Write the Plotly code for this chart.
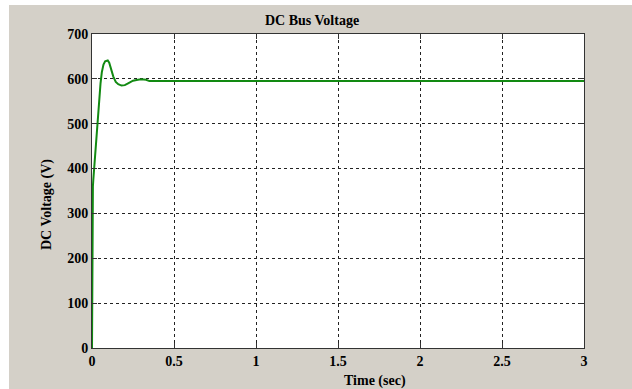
import plotly.graph_objects as go

# Data
time_s = [0, 0.0008, 0.002, 0.004, 0.0055, 0.008, 0.012, 0.018, 0.025, 0.034, 0.043,
          0.052, 0.06, 0.07, 0.08, 0.09, 0.096, 0.105, 0.115, 0.13, 0.145, 0.16,
          0.18, 0.2, 0.22, 0.25, 0.28, 0.30, 0.33, 0.35, 0.4, 1.0, 2.0, 3.0]
voltage = [0, 100, 105, 110, 360, 375, 395, 430, 465, 500, 548,
           590, 615, 632, 639, 641, 641, 636, 624, 605, 593, 588,
           585, 586, 590, 596, 598, 599, 598, 595, 595, 595, 595, 595]

title_text = "DC Bus Voltage"
xlabel_text = "Time (sec)"
ylabel_text = "DC Voltage (V)"
x_ticks = [0, 0.5, 1, 1.5, 2, 2.5, 3]
x_tick_labels = ["0", "0.5", "1", "1.5", "2", "2.5", "3"]
y_ticks = [0, 100, 200, 300, 400, 500, 600, 700]

W, H = 632, 389
L, R, T, B = 92, 48, 34, 41
pw, ph = W - L - R, H - T - B

def px_x(x):
    return (x - L) / pw

def px_y(y):
    return (H - B - y) / ph

font_family = "Liberation Serif"
grey = "#d4d0c8"

fig = go.Figure()
fig.add_trace(go.Scatter(x=time_s, y=voltage, mode="lines",
                         line=dict(color="#128a12", width=2), showlegend=False))

fig.update_layout(
    width=W, height=H,
    margin=dict(l=L, r=R, t=T, b=B),
    paper_bgcolor="white",
    plot_bgcolor="rgba(0,0,0,0)",
    font=dict(family=font_family, size=14, color="black"),
    shapes=[
        dict(type="rect", xref="paper", yref="paper", layer="below",
             x0=px_x(9), x1=px_x(W + 2), y0=px_y(H + 2), y1=px_y(5),
             fillcolor=grey, line=dict(width=0)),
        dict(type="rect", xref="paper", yref="paper", layer="below",
             x0=0, x1=1, y0=0, y1=1,
             fillcolor="white", line=dict(width=0)),
    ],
    annotations=[
        dict(text="<b>" + title_text + "</b>", xref="paper", yref="paper",
             x=px_x(312), y=px_y(20), showarrow=False,
             font=dict(size=14, family=font_family), xanchor="center", yanchor="middle"),
        dict(text="<b>" + xlabel_text + "</b>", xref="paper", yref="paper",
             x=px_x(375), y=px_y(381), showarrow=False,
             font=dict(size=14, family=font_family), xanchor="center", yanchor="middle"),
        dict(text="<b>" + ylabel_text + "</b>", xref="paper", yref="paper",
             x=px_x(47), y=px_y(205), showarrow=False, textangle=-90,
             font=dict(size=14, family=font_family), xanchor="center", yanchor="middle"),
    ],
)

fig.update_xaxes(
    range=[0, 3], tickvals=x_ticks, ticktext=["<b>%s</b>" % t for t in x_tick_labels],
    showgrid=True, gridcolor="#222222", griddash="3px,3px", gridwidth=1,
    showline=True, linecolor="#333333", linewidth=1, mirror="ticks",
    ticks="inside", ticklen=5, tickcolor="#333333",
    zeroline=False, tickfont=dict(size=14, family=font_family),
)
fig.update_yaxes(
    range=[0, 700], tickvals=y_ticks, ticktext=["<b>%d</b>" % t for t in y_ticks],
    showgrid=True, gridcolor="#222222", griddash="3px,3px", gridwidth=1,
    showline=True, linecolor="#333333", linewidth=1, mirror="ticks",
    ticks="inside", ticklen=5, tickcolor="#333333",
    zeroline=False, tickfont=dict(size=14, family=font_family),
)

fig.write_html("out.html")
